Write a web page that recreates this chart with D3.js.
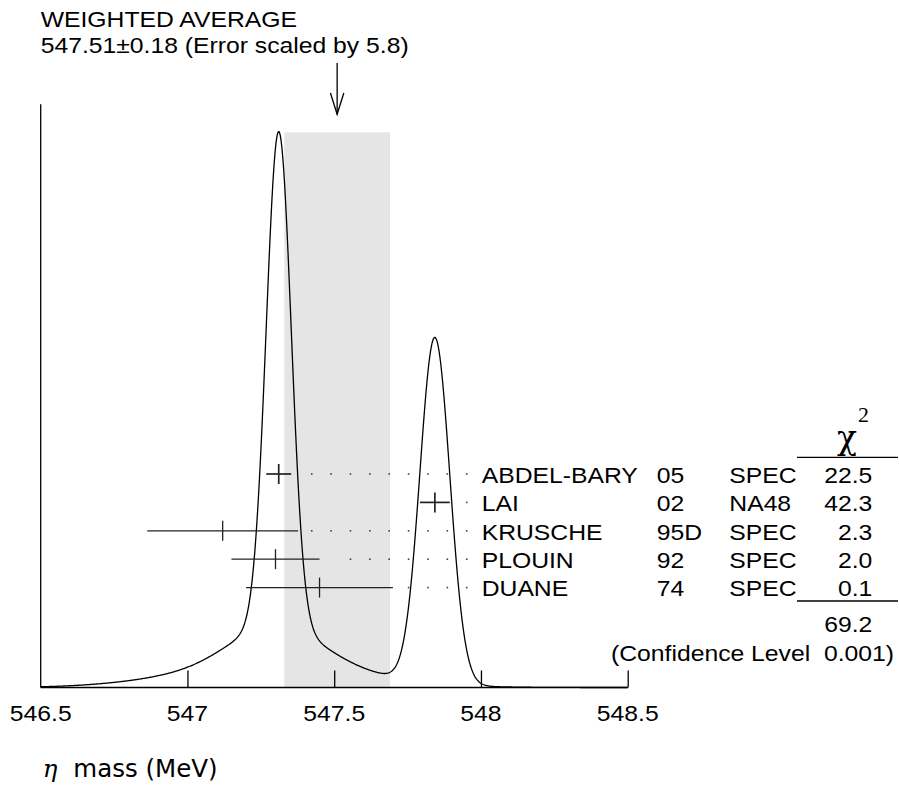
<!DOCTYPE html>
<html lang="en">
<head>
<meta charset="utf-8">
<style>
  body { margin: 0; background: white; }
  svg { background-color: white; font-family: 'Liberation Sans', Arial, sans-serif; }
  .lbl { font-size: 21.5px; fill: #000; white-space: pre; }
</style>
</head>
<body>
<div id="my_dataviz"></div>
<script src="https://d3js.org/d3.v7.min.js"></script>
<script>
// measurements (eta mass, MeV)
var names   = ["ABDEL-BARY", "LAI", "KRUSCHE", "PLOUIN", "DUANE"];
var years   = ["05", "02", "95D", "92", "74"];
var methods = ["SPEC", "NA48", "SPEC", "SPEC", "SPEC"];
var values  = [547.311, 547.843, 547.12, 547.30, 547.45];
var errors  = [0.0425, 0.0508, 0.257, 0.15, 0.25];
var chi2    = ["22.5", "42.3", "2.3", "2.0", "0.1"];
var chi2Total = "69.2";
var confLevel = "0.001";
var avg = 547.51, avgErr = 0.18, errScale = "5.8";
var xTicks = [546.5, 547, 547.5, 548, 548.5];

var W = 899, H = 791;
var sx = 1.15;   // text in the reference is a bit wider than Arial

var svg = d3.select("#my_dataviz").append("svg")
    .attr("width", W).attr("height", H);

var x = d3.scaleLinear().domain([546.5, 548.5]).range([40.7, 627.7]);

// ideogram: each measurement is a gaussian with area ~ 1/err
function ideo(m) {
  var s = 0;
  for (var i = 0; i < values.length; i++) {
    var d = (m - values[i]) / errors[i];
    s += Math.exp(-0.5 * d * d) / (errors[i] * errors[i]);
  }
  return s;
}
var grid = d3.range(546.5, 548.5001, 0.002);
var curve = grid.map(function(m) { return [m, ideo(m)]; });
var yMax = d3.max(curve, function(d) { return d[1]; });
var y = d3.scaleLinear().domain([0, yMax]).range([687.5, 131.7]);

function txt(g, xp, yp, s, anchor, cls) {
  return g.append("text")
    .attr("class", cls || "lbl")
    .attr("text-anchor", anchor || "start")
    .attr("transform", "translate(" + xp + "," + yp + ") scale(" + sx + ",1)")
    .text(s);
}

// weighted average band
svg.append("rect")
  .attr("x", x(avg - avgErr)).attr("y", y(yMax) + 0.6)
  .attr("width", x(avg + avgErr) - x(avg - avgErr))
  .attr("height", y(0) - y(yMax) - 0.6)
  .attr("fill", "#e5e5e5");

// curve
svg.append("path")
  .datum(curve)
  .attr("fill", "none").attr("stroke", "#000").attr("stroke-width", 1.3)
  .attr("d", d3.line().x(function(d) { return x(d[0]); }).y(function(d) { return y(d[1]); }));

// axes
svg.append("line").attr("x1", x(546.5)).attr("x2", x(546.5))
  .attr("y1", 104.3).attr("y2", y(0)).attr("stroke", "#000").attr("stroke-width", 1.3);
var xa = svg.append("g").attr("transform", "translate(0," + y(0) + ")")
  .call(d3.axisTop(x).tickValues(xTicks.slice(1)).tickSize(17).tickFormat(""));
xa.select(".domain").attr("d", "M" + x(546.5) + ",0H" + x(548.5)).attr("stroke-width", 1.3);
xa.selectAll(".tick line").attr("stroke-width", 1.3);
xTicks.forEach(function(t) { txt(svg, x(t), 721, String(t), "middle"); });

// axis title
var at = svg.append("text").attr("x", 42.7).attr("y", 777).attr("font-size", 24.5).attr("fill", "#000");
at.append("tspan").attr("font-family", "'DejaVu Serif', serif").attr("font-style", "italic").text("\u03b7");
at.append("tspan").attr("font-family", "'DejaVu Sans', sans-serif").attr("x", 73.3).text("mass (MeV)");

// weighted average header + arrow
txt(svg, 40.7, 27.3, "WEIGHTED AVERAGE");
txt(svg, 40.7, 53.3, avg.toFixed(2) + "\u00b1" + avgErr.toFixed(2) + " (Error scaled by " + errScale + ")");
svg.append("line").attr("x1", x(avg)).attr("x2", x(avg)).attr("y1", 63).attr("y2", 114.3)
  .attr("stroke", "#000").attr("stroke-width", 1.3);
svg.append("path")
  .attr("d", "M" + (x(avg) - 6.7) + ",93L" + x(avg) + ",114.3L" + (x(avg) + 6.7) + ",93")
  .attr("fill", "none").attr("stroke", "#000").attr("stroke-width", 1.3);

// measurements
var rowY = function(i) { return 474 + i * 28.4; };
var dotX = d3.range(0, 9).map(function(k) { return 466.7 - k * 19.37; });

values.forEach(function(v, i) {
  var g = svg.append("g");
  var yy = rowY(i);
  var sw = i < 2 ? 1.7 : 1.3;
  g.append("line").attr("x1", x(v - errors[i])).attr("x2", x(v + errors[i]))
    .attr("y1", yy).attr("y2", yy).attr("stroke", "#222").attr("stroke-width", sw);
  g.append("line").attr("x1", x(v)).attr("x2", x(v))
    .attr("y1", yy - 10).attr("y2", yy + 10).attr("stroke", "#222").attr("stroke-width", sw);
  var end = x(v + errors[i]);
  g.selectAll("rect").data(dotX.filter(function(d) { return d > end + 13; }))
    .enter().append("rect")
    .attr("x", function(d) { return d - 0.8; }).attr("y", yy - 0.8)
    .attr("width", 1.6).attr("height", 1.6).attr("fill", "#444");
  txt(g, 481.7, yy + 8.7, names[i]);
  txt(g, 656.7, yy + 8.7, years[i]);
  txt(g, 729.3, yy + 8.7, methods[i]);
  txt(g, 872.3, yy + 8.7, chi2[i], "end");
});

// chi2 column
svg.append("text").attr("x", 837).attr("y", 449).attr("fill", "#000")
  .attr("font-family", "'DejaVu Serif', serif").attr("font-size", 33).text("\u03c7");
svg.append("text").attr("x", 858).attr("y", 422).attr("fill", "#000")
  .attr("font-family", "'Liberation Serif', serif").attr("font-size", 22).text("2");
svg.append("line").attr("x1", 797).attr("x2", 898).attr("y1", 457.3).attr("y2", 457.3)
  .attr("stroke", "#000").attr("stroke-width", 1.3);
svg.append("line").attr("x1", 797).attr("x2", 898).attr("y1", 601).attr("y2", 601)
  .attr("stroke", "#000").attr("stroke-width", 1.3);
txt(svg, 872.3, 631.7, chi2Total, "end");
txt(svg, 894, 660.7, "(Confidence Level  " + confLevel + ")", "end");
</script>
</body>
</html>
